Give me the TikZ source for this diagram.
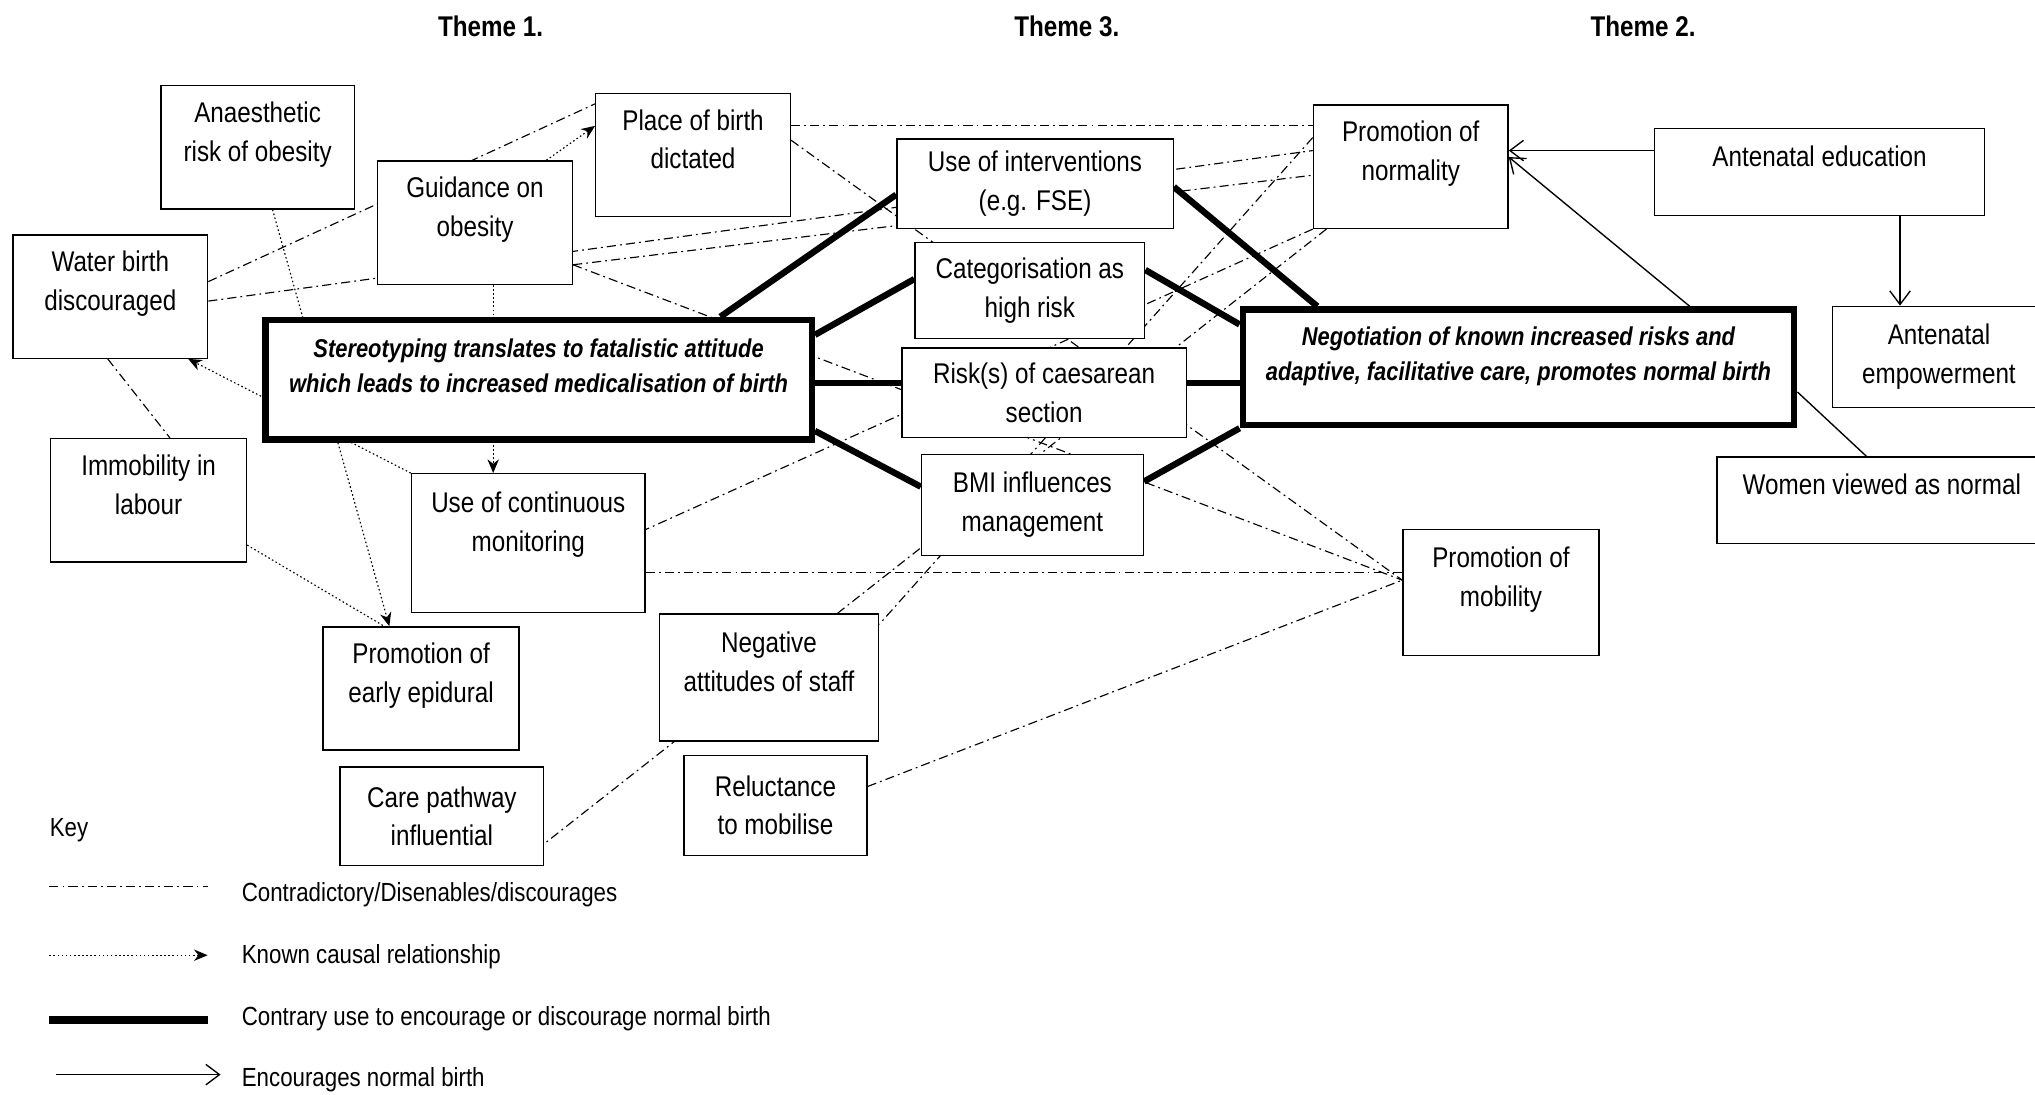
\documentclass[tikz,border=0pt]{standalone}
\usepackage{fontspec}
\setmainfont{Liberation Sans}[FakeStretch=0.85]
\usepackage{tikz}
\usetikzlibrary{arrows.meta,backgrounds}
\tikzset{>={Stealth[length=6pt,width=5pt]},
    box/.style={draw, line width=0.6pt, fill=white, align=center, inner sep=2pt,
      font=\fontsize{12.5}{17}\selectfont},
    mainbox/.style={draw, line width=2.8pt, fill=white, align=center, inner sep=2pt,
      font=\fontsize{11.3}{15.3}\selectfont\bfseries\itshape},
    theme/.style={font=\fontsize{12.5}{15}\selectfont\bfseries},
    keytext/.style={font=\fontsize{11.5}{14}\selectfont, inner sep=0pt},
    contra/.style={line width=0.5pt, dash pattern=on 4pt off 1.8pt on 0.8pt off 1.8pt},
    causal/.style={line width=0.5pt, dash pattern=on 0.7pt off 1.1pt, ->},
    contrary/.style={line width=2.8pt},
    encourage/.style={line width=0.6pt, -{Straight Barb[length=6pt,width=9pt]}}}
\newcommand{\spare}{\\[-3pt]\mbox{}}

\begin{document}
\begin{tikzpicture}[x=0.02cm, y=-0.02cm]
  \useasboundingbox (0,0) rectangle (1568,843);
  % themes
  \node[theme] (th1) at (378,20) {Theme 1.};
  \node[theme] (th3) at (822,20) {Theme 3.};
  \node[theme] (th2) at (1266,20) {Theme 2.};

  % theme 1
  \node[box, minimum width=2.98cm, minimum height=1.9cm] (anaes) at (198.5,113.5) {Anaesthetic\\risk of obesity\spare};
  \node[box, minimum width=3cm, minimum height=1.9cm] (guid) at (366,171.5) {Guidance on\\obesity\spare};
  \node[box, minimum width=3cm, minimum height=1.9cm] (place) at (534,119.5) {Place of birth\\dictated\spare};
  \node[box, minimum width=3cm, minimum height=1.9cm] (water) at (85,228.5) {Water birth\\discouraged\spare};
  \node[mainbox, minimum width=8.42cm, minimum height=1.84cm] (stereo) at (415,292.5)
    {Stereotyping translates to fatalistic attitude\\which leads to increased medicalisation of birth\spare};
  \node[box, minimum width=3.02cm, minimum height=1.9cm] (immob) at (114.5,385.5) {Immobility in\\labour\spare};
  \node[box, minimum width=3.6cm, minimum height=2.14cm] (monit) at (407,418.5) {Use of continuous\\monitoring\\[2pt]\mbox{}};
  \node[box, minimum width=3.02cm, minimum height=1.9cm] (epid) at (324.5,530.5) {Promotion of\\early epidural\spare};
  \node[box, minimum width=3.14cm, minimum height=1.52cm] (care) at (340.5,629) {Care pathway\\influential};
  \node[box, minimum width=3.38cm, minimum height=1.96cm] (negat) at (592.5,522) {Negative\\attitudes of staff\spare};
  \node[box, minimum width=2.82cm, minimum height=1.54cm] (reluc) at (597.5,620.5) {Reluctance\\to mobilise};

  % theme 3
  \node[box, minimum width=4.26cm, minimum height=1.38cm] (interv) at (797.5,141.5) {Use of interventions\\(e.g. FSE)};
  \node[box, minimum width=3.54cm, minimum height=1.48cm] (categ) at (793.5,224) {Categorisation as\\high risk};
  \node[box, minimum width=4.38cm, minimum height=1.38cm] (caes) at (804.5,302.5) {Risk(s) of caesarean\\section};
  \node[box, minimum width=3.42cm, minimum height=1.56cm] (bmi) at (795.5,389) {BMI influences\\management};

  % theme 2
  \node[mainbox, minimum width=8.5cm, minimum height=1.78cm] (negot) at (1170,283)
    {Negotiation of known increased risks and\\adaptive, facilitative care, promotes normal birth\spare};
  \node[box, minimum width=3cm, minimum height=1.9cm] (normal) at (1087,128.5) {Promotion of\\normality\spare};
  \node[box, minimum width=5.08cm, minimum height=1.34cm] (antedu) at (1402,132.5) {Antenatal education\spare};
  \node[box, minimum width=3.28cm, minimum height=1.56cm] (empow) at (1494,275) {Antenatal\\empowerment};
  \node[box, minimum width=5.08cm, minimum height=1.34cm] (women) at (1450,385.5) {Women viewed as normal\spare};
  \node[box, minimum width=3.02cm, minimum height=1.94cm] (mobil) at (1156.5,456.5) {Promotion of\\mobility\spare};

  \begin{pgfonlayer}{background}
    \fill[white] (0,0) rectangle (1568,843);
    % contradictory
    \draw[contra] (water.east |- 0,217) -- (place.west |- 0,80);
    \draw[contra] (water.east |- 0,232) -- (normal.west |- 0,116);
    \draw[contra] (water.south -| 83,0) -- (immob.north -| 131,0);
    \draw[contra] (guid.east |- 0,204) -- (normal.west |- 0,135);
    \draw[contra] (guid.east |- 0,204) -- (mobil.west |- 0,447);
    \draw[contra] (place.east |- 0,97) -- (normal.west |- 0,97);
    \draw[contra] (place.east |- 0,108) -- (mobil.west |- 0,447);
    \draw[contra] (monit.east |- 0,441) -- (mobil.west |- 0,441);
    \draw[contra] (reluc.east |- 0,606) -- (mobil.west |- 0,447);
    \draw[contra] (normal.west |- 0,106) -- (negat.east |- 0,481);
    \draw[contra] (normal.south -| 1022,0) -- (care.east |- 0,650);
    \draw[contra] (normal.south west) -- (monit.east |- 0,408);
    % known causal
    \draw[causal] (anaes.south -| 210,0) -- (epid.north -| 300,0);
    \draw[causal, -] (immob.east |- 0,420) -- (epid.north -| 296,0);
    \draw[causal] (guid.south -| 380,0) -- (monit.north -| 380,0);
    \draw[causal] (monit.north west) -- (water.south -| 145,0);
    \draw[causal] (guid.north -| 421,0) -- (place.west |- 0,97);
    % contrary use
    \draw[contrary] (stereo.north -| 555,0) -- (interv.west |- 0,150);
    \draw[contrary] (stereo.east |- 0,258) -- (categ.west |- 0,215);
    \draw[contrary] (stereo.east |- 0,295) -- (caes.west |- 0,295);
    \draw[contrary] (stereo.east |- 0,332) -- (bmi.west |- 0,375);
    \draw[contrary] (interv.east |- 0,144) -- (negot.north -| 1015,0);
    \draw[contrary] (categ.east |- 0,208) -- (negot.west |- 0,250);
    \draw[contrary] (caes.east |- 0,295) -- (negot.west |- 0,295);
    \draw[contrary] (bmi.east |- 0,371) -- (negot.south west);
    % encourages
    \draw[encourage] (antedu.west |- 0,116) -- (normal.east |- 0,116);
    \draw[encourage] (negot.north -| 1302,0) -- (normal.east |- 0,121);
    \draw[encourage] (antedu.south -| 1464,0) -- (empow.north -| 1464,0);
    \draw[line width=0.6pt] (negot.east |- 0,302) -- (women.north -| 1438,0);
  \end{pgfonlayer}

  % key
  \node[keytext, anchor=west] (key) at (38,640) {Key};
  \coordinate (ka1) at (38,683);  \coordinate (kb1) at (160,683);
  \coordinate (ka2) at (38,736);  \coordinate (kb2) at (160,736);
  \coordinate (ka3) at (38,786);  \coordinate (kb3) at (160,786);
  \coordinate (ka4) at (43,828);  \coordinate (kb4) at (170,828);
  \draw[contra] (ka1) -- (kb1);
  \draw[causal] (ka2) -- (kb2);
  \draw[contrary, line width=3.4pt] (ka3) -- (kb3);
  \draw[encourage] (ka4) -- (kb4);
  \node[keytext, anchor=west] (kt1) at (186,689) {Contradictory/Disenables/discourages};
  \node[keytext, anchor=west] (kt2) at (186,737) {Known causal relationship};
  \node[keytext, anchor=west] (kt3) at (186,785) {Contrary use to encourage or discourage normal birth};
  \node[keytext, anchor=west] (kt4) at (186,832) {Encourages normal birth};
\end{tikzpicture}
\end{document}
